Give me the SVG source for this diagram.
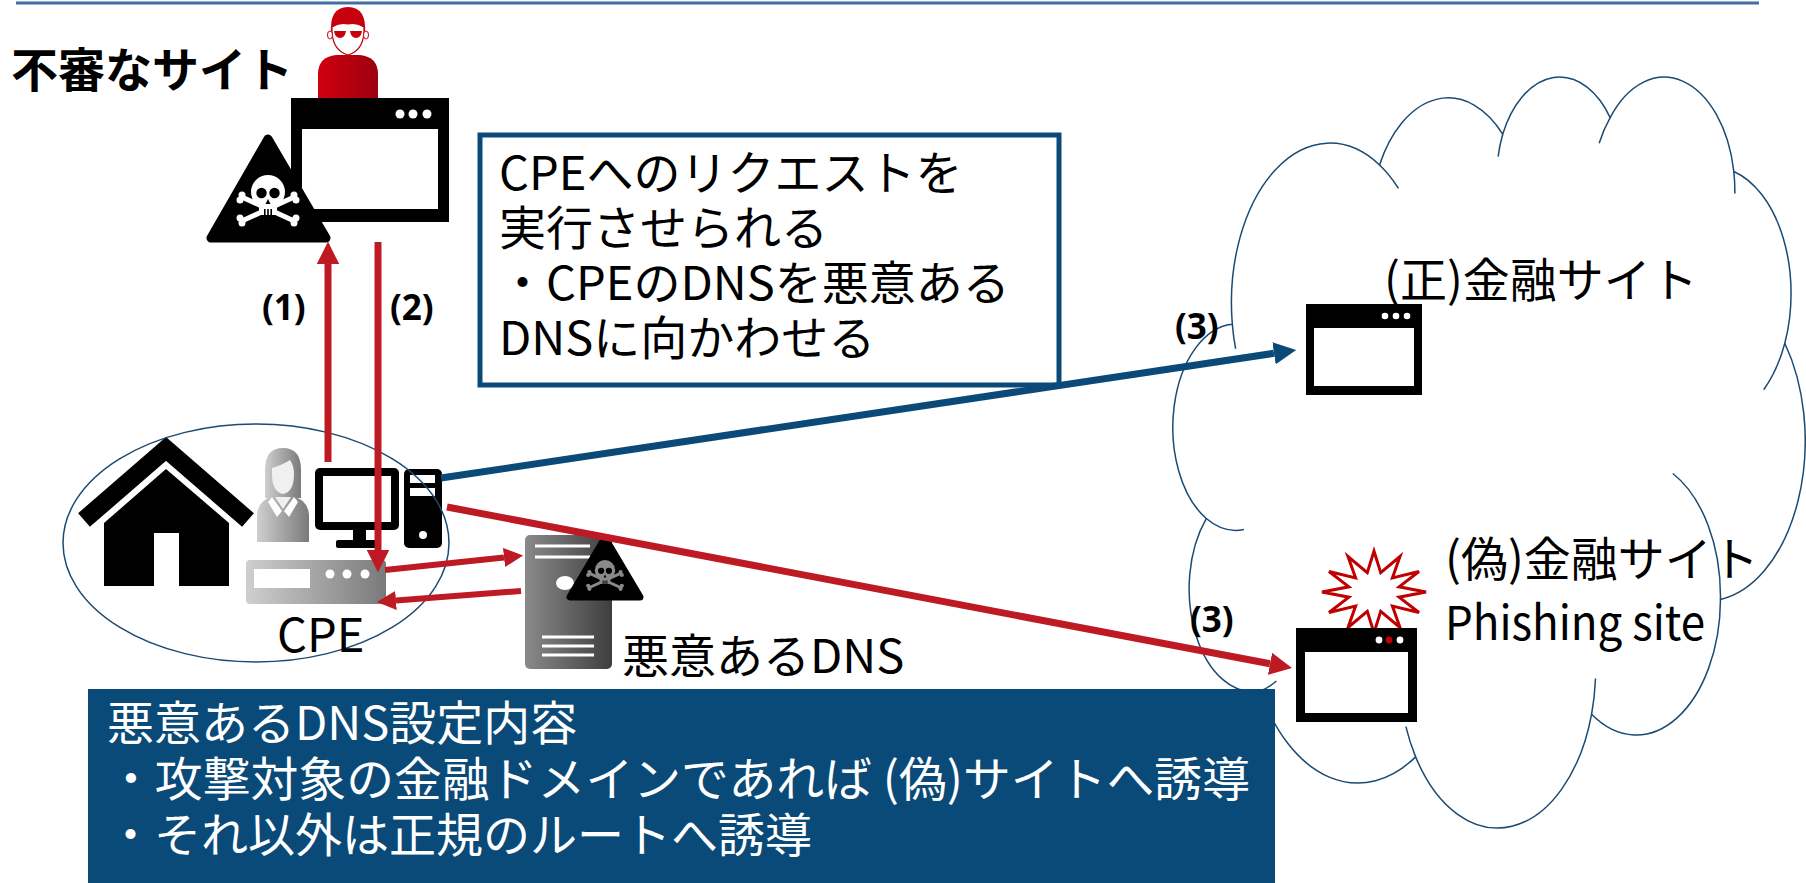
<svg xmlns="http://www.w3.org/2000/svg" width="1806" height="883" viewBox="0 0 1806 883">
  <style>
    .jp { font-family: "Noto Sans CJK JP", "Noto Sans", sans-serif; font-size: 47px; fill: #000; }
    .jp-w { font-family: "Noto Sans CJK JP", "Noto Sans", sans-serif; font-size: 47px; fill: #fff; }
    .step { font-family: "Open Sans", "Noto Sans", sans-serif; font-size: 35px; font-weight: 700; fill: #000; }
    .navy-line { fill: none; stroke: #1b4a72; stroke-width: 1.5; }
    .cloud-line { fill: none; stroke: #1b4a72; stroke-width: 1.5; vector-effect: non-scaling-stroke; }
    .red { stroke: #be1a24; fill: none; }
    .blue { stroke: #0b4a78; fill: none; }
    .frame { fill: #000; }
    .pane { fill: #fff; }
  </style>
  <defs>
    <marker id="head-red" viewBox="0 0 10 10" refX="0" refY="5" markerWidth="3.2" markerHeight="3.2" orient="auto" markerUnits="strokeWidth">
      <path d="M0,0 L10,5 L0,10 Z" fill="#be1a24"/>
    </marker>
    <marker id="head-blue" viewBox="0 0 10 10" refX="0" refY="5" markerWidth="3.2" markerHeight="3.2" orient="auto" markerUnits="strokeWidth">
      <path d="M0,0 L10,5 L0,10 Z" fill="#0b4a78"/>
    </marker>
    <linearGradient id="g-light" x1="0" y1="0" x2="1" y2="0">
      <stop offset="0" stop-color="#cfcfcf"/>
      <stop offset="1" stop-color="#7a7a7a"/>
    </linearGradient>
    <linearGradient id="g-dark" x1="0" y1="0" x2="1" y2="0">
      <stop offset="0" stop-color="#8a8a8a"/>
      <stop offset="1" stop-color="#3e3e3e"/>
    </linearGradient>
    <linearGradient id="g-red" x1="0" y1="0" x2="1" y2="0">
      <stop offset="0" stop-color="#d0000e"/>
      <stop offset="1" stop-color="#9c0010"/>
    </linearGradient>
    <!-- skull and crossbones, centred on the skull -->
    <g id="skull">
      <g stroke="currentColor" stroke-width="5" stroke-linecap="round">
        <line x1="-24" y1="8" x2="24" y2="30"/>
        <line x1="-24" y1="30" x2="24" y2="8"/>
      </g>
      <g fill="currentColor">
        <circle cx="-26" cy="5" r="3.5"/><circle cx="-28" cy="10" r="3.5"/>
        <circle cx="26" cy="5" r="3.5"/><circle cx="28" cy="10" r="3.5"/>
        <circle cx="-26" cy="33" r="3.5"/><circle cx="-28" cy="28" r="3.5"/>
        <circle cx="26" cy="33" r="3.5"/><circle cx="28" cy="28" r="3.5"/>
        <circle cx="0" cy="2" r="17"/>
        <rect x="-9" y="10" width="18" height="15" rx="3"/>
      </g>
      <g fill="#000">
        <circle cx="-6.5" cy="3" r="5.2"/>
        <circle cx="6.5" cy="3" r="5.2"/>
        <path d="M0,9 L-2.5,14 L2.5,14 Z"/>
        <rect x="-4" y="19" width="1.6" height="6"/>
        <rect x="-0.8" y="19" width="1.6" height="6"/>
        <rect x="2.4" y="19" width="1.6" height="6"/>
      </g>
    </g>
  </defs>

  <rect width="1806" height="883" fill="#fff"/>

  <!-- header rule -->
  <line x1="16" y1="3" x2="1759" y2="3" stroke="#3f6fa5" stroke-width="3"/>

  <!-- internet cloud (drawn in a 43200 unit box) -->
  <g id="cloud" transform="translate(1175.5,74.6) scale(0.01457,0.017377)">
    <path class="cloud-line" style="fill:#fff" d="M3900,14370 A6753,9190 0 0 1 14005,5202 A5333,7267 0 0 1 22457,3430 A4365,5945 0 0 1 29833,2477 A4857,6595 0 0 1 38317,5573 A5333,7273 0 0 1 41818,15457 A6775,9220 0 0 1 37404,30201 A5785,7867 0 0 1 28556,36811 A6752,9215 0 0 1 16481,39263 A7720,10543 0 0 1 5805,35468 A4360,5918 0 0 1 2113,25547 A4345,5945 0 0 1 3900,14370 Z"/>
    <path class="cloud-line" d="M4693,26177 A4345,5945 0 0 1 2113,25547 M6928,34899 A4360,5918 0 0 1 5805,35468 M16481,39263 A6752,9215 0 0 1 15812,37523 M28827,34751 A6752,9215 0 0 1 28556,36811 M34129,22954 A5785,7867 0 0 1 37404,30201 M41818,15457 A5333,7273 0 0 1 40370,18133 M38317,5573 A4857,6595 0 0 1 38393,6840 M29078,3952 A4857,6595 0 0 1 29833,2477 M22141,4720 A4365,5945 0 0 1 22457,3430 M14005,5202 A6753,9190 0 0 1 15304,6549 M4127,15789 A6753,9190 0 0 1 3900,14370"/>
  </g>

  <!-- suspicious site: attacker, browser, warning sign -->
  <g id="suspicious-site">
    <text class="jp" x="11" y="87" style="font-weight:700">不審なサイト</text>
    <g id="attacker">
      <path d="M318,98 L318,74 Q318,57 336,55 L360,55 Q378,57 378,74 L378,98 Z" fill="url(#g-red)"/>
      <path d="M331,34 Q329,7 348,7 Q367,7 365,34 Z" fill="#c8000e"/>
      <path d="M332,27 Q340,22 348,24 Q356,22 364,27 Q365,50 348,55 Q331,50 332,27 Z" fill="#fff" stroke="#c8000e" stroke-width="1.2"/>
      <ellipse cx="330" cy="35" rx="2.5" ry="4" fill="#fff" stroke="#c8000e" stroke-width="1"/>
      <ellipse cx="366" cy="35" rx="2.5" ry="4" fill="#fff" stroke="#c8000e" stroke-width="1"/>
      <path d="M334,31 L346,31 Q345,38 340,38 Q335,38 334,31 Z M350,31 L362,31 Q361,38 356,38 Q351,38 350,31 Z" fill="#c8000e"/>
    </g>
    <rect class="frame" x="291" y="98" width="158" height="124"/>
    <rect class="pane" x="302" y="129" width="136" height="80"/>
    <g fill="#fff"><circle cx="400" cy="114" r="4.5"/><circle cx="413" cy="114" r="4.5"/><circle cx="427" cy="114" r="4.5"/></g>
    <polygon points="268,139 211,238 326,238" fill="#000" stroke="#000" stroke-width="9" stroke-linejoin="round"/>
    <use href="#skull" x="268" y="190" style="color:#fff"/>
  </g>

  <!-- note box -->
  <g id="note">
    <rect x="480" y="135" width="579" height="250" fill="#fff" stroke="#0b4a78" stroke-width="5"/>
    <text class="jp">
      <tspan x="499" y="190">CPEへのリクエストを</tspan>
      <tspan x="499" y="245">実行させられる</tspan>
      <tspan x="499" y="300">・CPEのDNSを悪意ある</tspan>
      <tspan x="499" y="355">DNSに向かわせる</tspan>
    </text>
  </g>

  <!-- home network -->
  <g id="home">
    <polyline points="84,520 166,449 248,520" fill="none" stroke="#000" stroke-width="18"/>
    <path d="M104,586 L104,523 L166,469 L229,523 L229,586 L179,586 L179,533 L154,533 L154,586 Z" fill="#000"/>
    <g id="user">
      <path d="M265,498 L265,470 Q265,448 283,448 Q301,448 301,470 L301,498 Z" fill="url(#g-light)"/>
      <path d="M272,468 Q280,466 290,460 Q294,466 294,474 Q294,492 283,494 Q272,492 272,474 Z" fill="#f0f0f0"/>
      <path d="M257,542 L257,515 Q258,500 272,497 L294,497 Q308,500 309,515 L309,542 Z" fill="url(#g-light)"/>
      <path d="M275,497 L283,509 L291,497 Z" fill="#f0f0f0"/>
      <path d="M272,497 L282,511 L277,517 L268,502 Z M294,497 L284,511 L289,517 L298,502 Z" fill="#fff"/>
    </g>
    <g id="pc">
      <rect x="315" y="468" width="84" height="62" rx="5" fill="#000"/>
      <rect x="323" y="476" width="68" height="46" fill="#fff"/>
      <rect x="353" y="529" width="13" height="12" fill="#000"/>
      <rect x="336" y="540" width="43" height="8" rx="2" fill="#000"/>
      <rect x="404" y="469" width="38" height="79" rx="5" fill="#000"/>
      <rect x="410" y="475" width="25" height="8" fill="#fff"/>
      <rect x="410" y="488" width="25" height="8" fill="#fff"/>
      <circle cx="423" cy="535" r="4" fill="#fff"/>
    </g>
    <ellipse class="navy-line" cx="256" cy="543" rx="193" ry="119"/>
  </g>

  <!-- CPE router -->
  <g id="cpe">
    <rect x="246" y="560" width="140" height="44" rx="4" fill="url(#g-light)"/>
    <rect x="254" y="569" width="56" height="19" fill="#fff"/>
    <g fill="#fff"><circle cx="330" cy="574" r="4.5"/><circle cx="347" cy="574" r="4.5"/><circle cx="365" cy="574" r="4.5"/></g>
    <text class="jp" x="277" y="652">CPE</text>
  </g>

  <!-- malicious DNS server -->
  <g id="dns">
    <rect x="525" y="535" width="87" height="134" rx="5" fill="url(#g-dark)"/>
    <g stroke="#fff" stroke-width="3">
      <line x1="535" y1="546" x2="590" y2="546"/>
      <line x1="535" y1="557" x2="590" y2="557"/>
      <line x1="542" y1="637" x2="594" y2="637"/>
      <line x1="542" y1="646" x2="594" y2="646"/>
      <line x1="542" y1="655" x2="594" y2="655"/>
    </g>
    <ellipse cx="565" cy="583" rx="9" ry="7" fill="#fff"/>
    <polygon points="605,538 570,597 640,597" fill="#000" stroke="#000" stroke-width="7" stroke-linejoin="round"/>
    <use href="#skull" transform="translate(605,569) scale(0.6)" style="color:#8a8a8a"/>
    <text class="jp" x="622" y="673">悪意あるDNS</text>
  </g>

  <!-- genuine bank site -->
  <g id="genuine-site">
    <rect class="frame" x="1306" y="304" width="116" height="91"/>
    <rect class="pane" x="1314" y="328" width="100" height="58"/>
    <g fill="#fff"><circle cx="1385" cy="316" r="3.3"/><circle cx="1396" cy="316" r="3.3"/><circle cx="1407" cy="316" r="3.3"/></g>
    <text class="jp" x="1384" y="297">(正)金融サイト</text>
  </g>

  <!-- phishing site -->
  <g id="phishing-site">
    <polygon points="1426,592 1399.1,597.2 1419,612.5 1392.4,606.1 1400,627.5 1380.7,611.3 1374,633 1367.3,611.3 1348,627.5 1355.6,606.1 1329,612.5 1348.9,597.2 1322,592 1348.9,586.8 1329,571.5 1355.6,577.9 1348,556.5 1367.3,572.7 1374,551 1380.7,572.7 1400,556.5 1392.4,577.9 1419,571.5 1399.1,586.8" fill="#fff" stroke="#c00000" stroke-width="3" stroke-linejoin="miter"/>
    <rect class="frame" x="1296" y="628" width="121" height="94"/>
    <rect class="pane" x="1305" y="652" width="103" height="61"/>
    <circle cx="1379" cy="640" r="3.4" fill="#fff"/>
    <circle cx="1389" cy="640" r="3.4" fill="#c00000"/>
    <circle cx="1400" cy="640" r="3.4" fill="#fff"/>
    <text class="jp">
      <tspan x="1445" y="576">(偽)金融サイト</tspan>
      <tspan x="1445" y="640" textLength="260" lengthAdjust="spacingAndGlyphs">Phishing site</tspan>
    </text>
  </g>

  <!-- connectors -->
  <g id="connectors">
    <line class="red" x1="328" y1="462" x2="328" y2="264" stroke-width="7" marker-end="url(#head-red)"/>
    <line class="red" x1="378" y1="242" x2="378" y2="550" stroke-width="7" marker-end="url(#head-red)"/>
    <line class="blue" x1="441" y1="478" x2="1274" y2="353.3" stroke-width="7" marker-end="url(#head-blue)"/>
    <line class="red" x1="447" y1="507" x2="1270" y2="663.8" stroke-width="7" marker-end="url(#head-red)"/>
    <line class="red" x1="385" y1="570" x2="504" y2="557.5" stroke-width="6" marker-end="url(#head-red)"/>
    <line class="red" x1="521" y1="591" x2="396" y2="600.5" stroke-width="6" marker-end="url(#head-red)"/>
  </g>

  <!-- step labels -->
  <g id="step-labels">
    <text class="step" x="262" y="320">(1)</text>
    <text class="step" x="390" y="320">(2)</text>
    <text class="step" x="1175" y="339">(3)</text>
    <text class="step" x="1190" y="632">(3)</text>
  </g>

  <!-- DNS settings panel -->
  <g id="dns-settings">
    <rect x="88" y="689" width="1187" height="194" fill="#0a4a78"/>
    <text class="jp-w">
      <tspan x="107" y="740">悪意あるDNS設定内容</tspan>
      <tspan x="107" y="796" textLength="1143" lengthAdjust="spacingAndGlyphs">・攻撃対象の金融ドメインであれば (偽)サイトへ誘導</tspan>
      <tspan x="107" y="852">・それ以外は正規のルートへ誘導</tspan>
    </text>
  </g>
</svg>
